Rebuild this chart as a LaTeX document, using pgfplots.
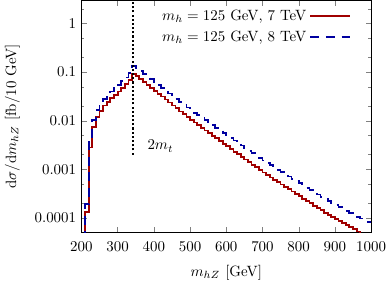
\documentclass[border=0pt]{standalone}
\usepackage{pgfplots}
\pgfplotsset{compat=1.18}
\definecolor{dred}{RGB}{160,0,0}
\definecolor{dblue}{RGB}{0,0,160}
\begin{document}
\begin{tikzpicture}
\begin{axis}[
  scale only axis,
  width=194pt, height=155.5pt,
  xmin=200, xmax=1000,
  ymode=log, ymin=5e-5, ymax=3,
  xtick={200,300,400,500,600,700,800,900,1000},
  xticklabel style={/pgf/number format/1000 sep={}},
  xticklabel shift=3pt,
  xlabel shift=2pt,
  ylabel shift=3pt,
  ytick={0.0001,0.001,0.01,0.1,1},
  yticklabels={0.0001,0.001,0.01,0.1,1},
  minor ytick={0.0002,0.0005,0.002,0.005,0.02,0.05,0.2,0.5,2},
  minor xtick={},
  tick align=inside,
  major tick length=3.5pt, minor tick length=2pt,
  xlabel={$m_{hZ}$ [GeV]},
  ylabel={$\mathrm{d}\sigma/\mathrm{d}m_{hZ}$ [fb/10 GeV]},
  legend plot pos=right,
  legend cell align=right,
  legend style={at={(1,1)}, anchor=north east, draw=none, fill=none, xshift=-10pt, yshift=-2pt, row sep=1.5pt},
  legend image code/.code={\draw[#1] (0pt,0pt) -- (27pt,0pt);},
]
\addplot[const plot mark left, color=dred, line width=1.2pt] coordinates {
(200,1e-6)(210,1.3e-4)(220,0.0028)(230,0.0074)(240,0.0119)(250,0.0160)(260,0.0205)(270,0.0245)(280,0.029)(290,0.034)(300,0.040)(310,0.047)(320,0.056)(330,0.068)(340,0.0912)
(350,0.0832)(360,0.0723)(370,0.0630)(380,0.0547)(390,0.0475)(400,0.0413)(410,0.0360)(420,0.0313)(430,0.0272)(440,0.0236)(450,0.0205)(460,0.0179)(470,0.0155)(480,0.0135)(490,0.0118)
(500,0.0104)(510,0.00920)(520,0.00811)(530,0.00716)(540,0.00631)(550,0.00557)(560,0.00491)(570,0.00434)(580,0.00382)(590,0.00337)
(600,0.00297)(610,0.00262)(620,0.00231)(630,0.00204)(640,0.00180)(650,0.00159)(660,0.00140)(670,0.00124)(680,0.00110)(690,0.000968)
(700,0.000857)(710,0.000759)(720,0.000679)(730,0.000608)(740,0.000543)(750,0.000486)(760,0.000435)(770,0.000389)(780,0.000348)(790,0.000311)
(800,0.000279)(810,0.000249)(820,0.000223)(830,0.000200)(840,0.000178)(850,0.000160)(860,0.000143)(870,0.000128)(880,0.000116)(890,0.000105)
(900,0.0000953)(910,0.0000863)(920,0.0000782)(930,0.0000708)(940,0.0000641)(950,0.0000581)(960,0.0000526)(970,0.0000479)(980,0.0000437)(990,0.0000398)(1000,0.0000398)
};
\addlegendentry{$m_h = 125$ GeV, 7 TeV}
\addplot[const plot mark left, color=dblue, line width=1.2pt, dash pattern=on 6pt off 4.5pt] coordinates {
(200,1e-6)(210,1.95e-4)(220,0.0039)(230,0.0102)(240,0.0164)(250,0.022)(260,0.0283)(270,0.0338)(280,0.040)(290,0.047)(300,0.055)(310,0.065)(320,0.077)(330,0.094)(340,0.133)
(350,0.1216)(360,0.1062)(370,0.0930)(380,0.0813)(390,0.0710)(400,0.0620)(410,0.0543)(420,0.0474)(430,0.0414)(440,0.0362)(450,0.0316)(460,0.0277)(470,0.0242)(480,0.0211)(490,0.0186)
(500,0.0165)(510,0.01465)(520,0.01298)(530,0.01152)(540,0.01021)(550,0.00906)(560,0.00803)(570,0.00712)(580,0.00631)(590,0.00560)
(600,0.00496)(610,0.00441)(620,0.00390)(630,0.00346)(640,0.00307)(650,0.00272)(660,0.00242)(670,0.00215)(680,0.00191)(690,0.00170)
(700,0.00151)(710,0.00134)(720,0.00121)(730,0.00109)(740,0.000977)(750,0.000880)(760,0.000790)(770,0.000711)(780,0.000640)(790,0.000575)
(800,0.000517)(810,0.000465)(820,0.000418)(830,0.000376)(840,0.000338)(850,0.000304)(860,0.000273)(870,0.000247)(880,0.000225)(890,0.000205)
(900,0.000187)(910,0.000170)(920,0.000155)(930,0.000141)(940,0.000128)(950,0.000117)(960,0.000106)(970,0.0000973)(980,0.0000892)(990,0.0000818)(1000,0.0000818)
};
\addlegendentry{$m_h = 125$ GeV, 8 TeV}
\addplot[black, line width=1.3pt, dash pattern=on 1.4pt off 1.4pt, forget plot] coordinates {(343,0.002)(343,3)};
\node[anchor=west] at (axis cs:368,0.003) {$2m_t$};
\end{axis}
\end{tikzpicture}
\end{document}
